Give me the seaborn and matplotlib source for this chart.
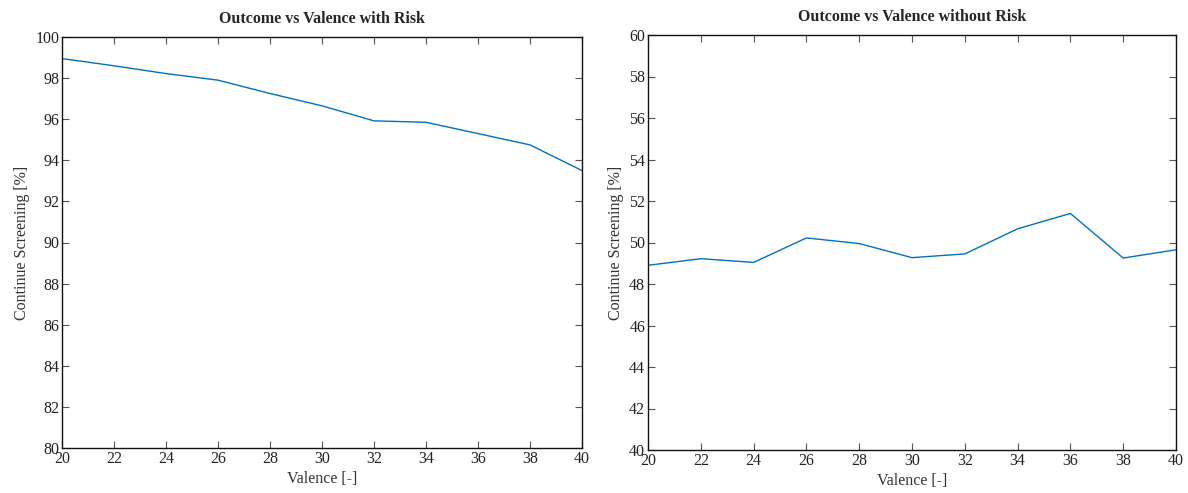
import matplotlib
matplotlib.use("Agg")
import matplotlib.pyplot as plt
import seaborn as sns
import pandas as pd

# Valence levels shared by both panels
valence = [20, 22, 24, 26, 28, 30, 32, 34, 36, 38, 40]
# Share of participants who continue screening [%]
with_risk = [98.95, 98.6, 98.22, 97.9, 97.25, 96.65, 95.92, 95.85, 95.3, 94.75, 93.5]
without_risk = [48.9, 49.22, 49.04, 50.22, 49.95, 49.27, 49.45, 50.66, 51.4, 49.25, 49.65]

x_ticks = [20, 22, 24, 26, 28, 30, 32, 34, 36, 38, 40]

sns.set_style("ticks")
plt.rcParams["font.family"] = ["Liberation Serif", "DejaVu Serif"]
plt.rcParams["mathtext.fontset"] = "dejavuserif"

line_color = "#0072BD"

fig = plt.figure(figsize=(11.88, 4.93), dpi=100)
ax1 = fig.add_axes([62 / 1188, 1 - 448 / 493, 520 / 1188, 411 / 493])
ax2 = fig.add_axes([648 / 1188, 1 - 450 / 493, 528 / 1188, 415 / 493])

panels = [
    (ax1, with_risk, "Outcome vs Valence with Risk", (80, 100), range(80, 101, 2)),
    (ax2, without_risk, "Outcome vs Valence without Risk", (40, 60), range(40, 61, 2)),
]

for ax, values, title, ylim, yticks in panels:
    df = pd.DataFrame({"Valence": valence, "Continue": values})
    sns.lineplot(data=df, x="Valence", y="Continue", ax=ax,
                 color=line_color, linewidth=1.0)
    ax.set_xlim(20, 40)
    ax.set_ylim(*ylim)
    ax.set_xticks(x_ticks)
    ax.set_yticks(list(yticks))
    ax.tick_params(direction="in", length=5, width=0.8, color="#555555",
                   top=True, right=True, labelsize=11.5, pad=2,
                   labelcolor="#222222")
    for s in ax.spines.values():
        s.set_linewidth(1.0)
        s.set_color("#111111")
    ax.set_xlabel("Valence [-]", fontsize=11.5, color="#333333", labelpad=3)
    ax.set_ylabel("Continue Screening [%]", fontsize=11.5, color="#333333",
                  labelpad=4)
    ax.set_title(title, fontsize=11.5, fontweight="bold", pad=10)

fig.savefig("out.png", dpi=100)
